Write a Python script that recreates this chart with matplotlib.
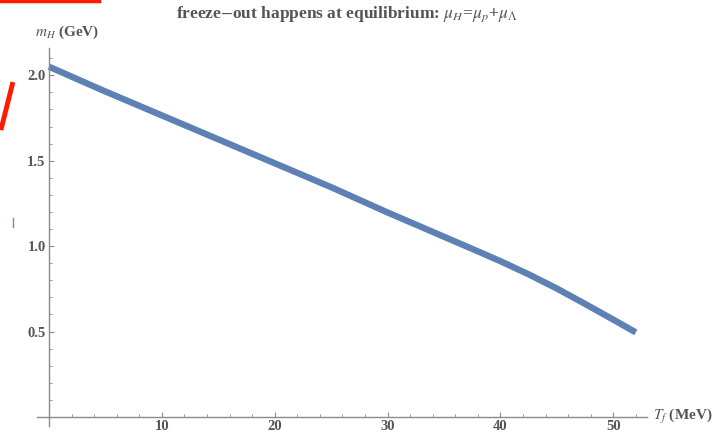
import numpy as np
import matplotlib
matplotlib.use('Agg')
import matplotlib.pyplot as plt
from matplotlib.lines import Line2D
from matplotlib.ticker import MultipleLocator

plt.rcParams['font.family'] = 'Liberation Serif'
plt.rcParams['mathtext.fontset'] = 'stix'

# data
t_f = [0, 5, 10, 15, 20, 25, 30, 35, 37.5, 40, 42.5, 45, 47.5, 50, 52]
m_h = [2.05, 1.905, 1.765, 1.625, 1.485, 1.345, 1.197, 1.055, 0.984, 0.912,
       0.835, 0.752, 0.662, 0.57, 0.495]
x_ticks = [10, 20, 30, 40, 50]
y_ticks = [0.5, 1.0, 1.5, 2.0]

grey = '#555555'
axis_grey = '#8a8a8a'

fig = plt.figure(figsize=(7.25, 4.33), dpi=100)
ax = fig.add_axes([0.0505, 0.0173, 0.842, 0.872])

ax.plot(t_f, m_h, color='#5E81B5', linewidth=4.6, solid_capstyle='butt',
        solid_joinstyle='round')

ax.set_xlim(-1.1, 53.0)
ax.set_ylim(-0.05, 2.16)

for s in ['top', 'right']:
    ax.spines[s].set_visible(False)
ax.spines['left'].set_position(('data', 0))
ax.spines['bottom'].set_position(('data', 0))
for s in ['left', 'bottom']:
    ax.spines[s].set_color(axis_grey)
    ax.spines[s].set_linewidth(1.0)

ax.set_xticks(x_ticks)
ax.set_yticks(y_ticks)
ax.xaxis.set_minor_locator(MultipleLocator(2))
ax.yaxis.set_minor_locator(MultipleLocator(0.1))
ax.set_yticklabels([f'{v:.1f}' for v in y_ticks])
ax.tick_params(which='major', direction='in', length=3.5, width=0.8, color=axis_grey,
               labelsize=10.5, labelcolor=grey, pad=2.5)
ax.tick_params(which='minor', direction='in', length=2, width=0.6, color=axis_grey)
for lab in ax.get_xticklabels() + ax.get_yticklabels():
    lab.set_fontweight('bold')

ax.text(-1.2, 2.25, r'$m_H$ (GeV)', fontsize=11, color=grey, fontweight='bold',
        ha='left', va='center', clip_on=False)
ax.text(53.5, 0.0, r'$T_f$ (MeV)', fontsize=11, color=grey, fontweight='bold',
        ha='left', va='center', clip_on=False)

fig.text(0.478, 0.968, r'freeze$-$out happens at equilibrium: $\mu_H$=$\mu_p$+$\mu_\Lambda$',
         fontsize=12.5, color=grey, fontweight='bold', ha='center', va='center')

# screenshot marks around the plot
fig.add_artist(Line2D([0, 0.137], [0.997, 0.997], color='#ff1a00', linewidth=2.5,
                      transform=fig.transFigure))
fig.add_artist(Line2D([0.002, 0.017], [0.705, 0.805], color='#ff1a00', linewidth=3.5,
                      transform=fig.transFigure))
fig.add_artist(Line2D([0.018, 0.018], [0.476, 0.497], color='#4a90e2', linewidth=1.0,
                      transform=fig.transFigure))

fig.savefig('out.png', dpi=100)
